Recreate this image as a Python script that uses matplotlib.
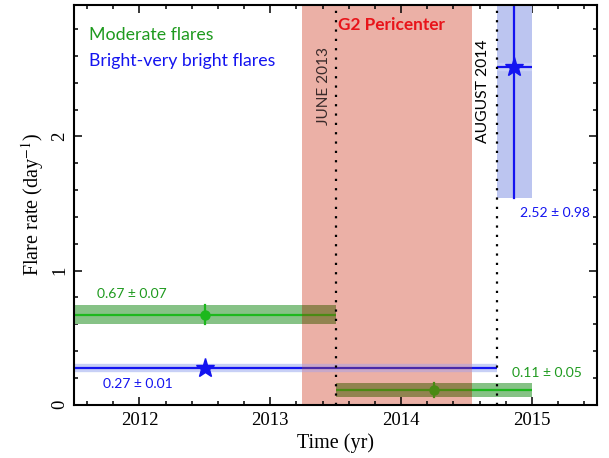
import matplotlib
matplotlib.use('Agg')
import matplotlib.pyplot as plt
from matplotlib.ticker import MultipleLocator

# ---------------- data ----------------
mod_x = [2012.5, 2014.25]
mod_xlo = [2011.5, 2013.5]
mod_xhi = [2013.5, 2015.0]
mod_rate = [0.67, 0.11]
mod_err = [0.07, 0.05]
mod_labels = ['0.67 ± 0.07', '0.11 ± 0.05']

br_x = [2012.5, 2014.86]
br_xlo = [2010.3, 2014.73]
br_xhi = [2014.73, 2015.0]
br_rate = [0.27, 2.52]
br_err = [0.01, 0.98]
br_labels = ['0.27 ± 0.01', '2.52 ± 0.98']

g2_span = [2013.24, 2014.54]
june_2013 = 2013.5
august_2014 = 2014.73
xticks = [2012, 2013, 2014, 2015]
yticks = [0, 1, 2]

# ---------------- style ----------------
plt.rcParams['mathtext.fontset'] = 'stix'
SERIF = 'Liberation Serif'
SANS = 'Lato'
PINK = '#EBB0A6'
GREEN = dict(line='#1DB81D', band='#86C286', line_in='#4A8A14',
             band_in='#918350', glow=None, glow_in=None)
BLUE = dict(line='#1414F0', band='#BCC5F0', line_in='#4A2AA8',
            band_in='#C0A4C8', glow='#C8D0F6', glow_in='#C8A8C8')


def pieces(lo, hi):
    a, b = g2_span
    out = []
    pts = sorted(set([lo, hi] + [v for v in (a, b) if lo < v < hi]))
    for s, e in zip(pts[:-1], pts[1:]):
        mid = 0.5 * (s + e)
        out.append((s, e, a <= mid <= b))
    return out


fig = plt.figure(figsize=(6.09, 4.58), dpi=100)
ax = fig.add_axes([0.1215, 0.1164, 0.8595, 0.8725])
ax.set_xlim(2011.5, 2015.5)
ax.set_ylim(0, 2.98)

ax.axvspan(g2_span[0], g2_span[1], color=PINK, zorder=1, lw=0)


def draw_series(xs, xlo, xhi, rate, err, st, marker, ms):
    for x, lo, hi, r, e in zip(xs, xlo, xhi, rate, err):
        for s, t, inside in pieces(lo, hi):
            bc = st['band_in'] if inside else st['band']
            lc = st['line_in'] if inside else st['line']
            ax.fill_between([s, t], r - e, r + e, color=bc, lw=0, zorder=2)
            if st['glow'] is not None:
                gc = st['glow_in'] if inside else st['glow']
                ax.plot([s, t], [r, r], color=gc, lw=6, zorder=2.5,
                        solid_capstyle='butt')
            ax.plot([s, t], [r, r], color=lc, lw=1.6, zorder=3,
                    solid_capstyle='butt')
        a, b = g2_span
        inside = a <= x <= b
        lc = st['line_in'] if inside else st['line']
        ax.plot([x, x], [r - e, r + e], color=lc, lw=1.6, zorder=3)
        ax.plot([x], [r], marker=marker, ms=ms, color=lc, mec=lc, zorder=4,
                ls='none')


draw_series(mod_x, mod_xlo, mod_xhi, mod_rate, mod_err, GREEN, 'o', 6.5)
draw_series(br_x, br_xlo, br_xhi, br_rate, br_err, BLUE, '*', 14)

for xv in (june_2013, august_2014):
    ax.axvline(xv, color='black', ls=(0, (1, 3.2)), lw=1.6, zorder=5)

# value labels
ax.text(2011.675, 0.827, mod_labels[0], color='#1E9A1E', fontsize=10,
        family=SANS, va='center', ha='left')
ax.text(2014.85, 0.237, mod_labels[1], color='#1E9A1E', fontsize=10,
        family=SANS, va='center', ha='left')
ax.text(2011.72, 0.155, br_labels[0], color='#1414F0', fontsize=10,
        family=SANS, va='center', ha='left')
ax.text(2014.907, 1.43, br_labels[1], color='#1414F0', fontsize=10,
        family=SANS, va='center', ha='left')

ax.text(0.029, 0.924, 'Moderate flares', color='#1E9A1E', fontsize=12.8,
        family=SANS, transform=ax.transAxes, va='center', ha='left')
ax.text(0.029, 0.859, 'Bright-very bright flares', color='#1414F0',
        fontsize=12.8, family=SANS, transform=ax.transAxes, va='center',
        ha='left')
ax.text(2013.52, 2.83, 'G2 Pericenter', color='#E8141A', fontsize=12.4,
        fontweight='bold', family=SANS, va='center', ha='left', zorder=6)
ax.text(2013.41, 2.38, 'JUNE 2013', color='#3A2A2A', fontsize=11.1,
        family=SANS, rotation=90, va='center', ha='center', zorder=6)
ax.text(2014.625, 2.34, 'AUGUST 2014', color='black', fontsize=11.3,
        family=SANS, rotation=90, va='center', ha='center', zorder=6)

# axes styling
ax.set_xticks(xticks)
ax.set_yticks(yticks)
ax.xaxis.set_minor_locator(MultipleLocator(0.2))
ax.yaxis.set_minor_locator(MultipleLocator(0.2))
ax.tick_params(which='both', direction='in', top=True, right=True, width=1.1)
ax.tick_params(which='major', length=6)
ax.tick_params(which='minor', length=3)
ax.tick_params(axis='x', which='major', pad=5)
ax.tick_params(axis='y', which='major', pad=4)
for lab in ax.get_xticklabels() + ax.get_yticklabels():
    lab.set_family(SERIF)
    lab.set_fontsize(13.5)
for lab in ax.get_yticklabels():
    lab.set_rotation(90)
    lab.set_va('center')
for sp in ax.spines.values():
    sp.set_linewidth(1.5)
    sp.set_zorder(10)

ax.set_xlabel('Time (yr)', family=SERIF, fontsize=14.5, labelpad=3)
ax.set_ylabel('Flare rate (day$^{-1}$)', family=SERIF, fontsize=14.5,
              labelpad=4)

fig.savefig('out.png', dpi=100)
